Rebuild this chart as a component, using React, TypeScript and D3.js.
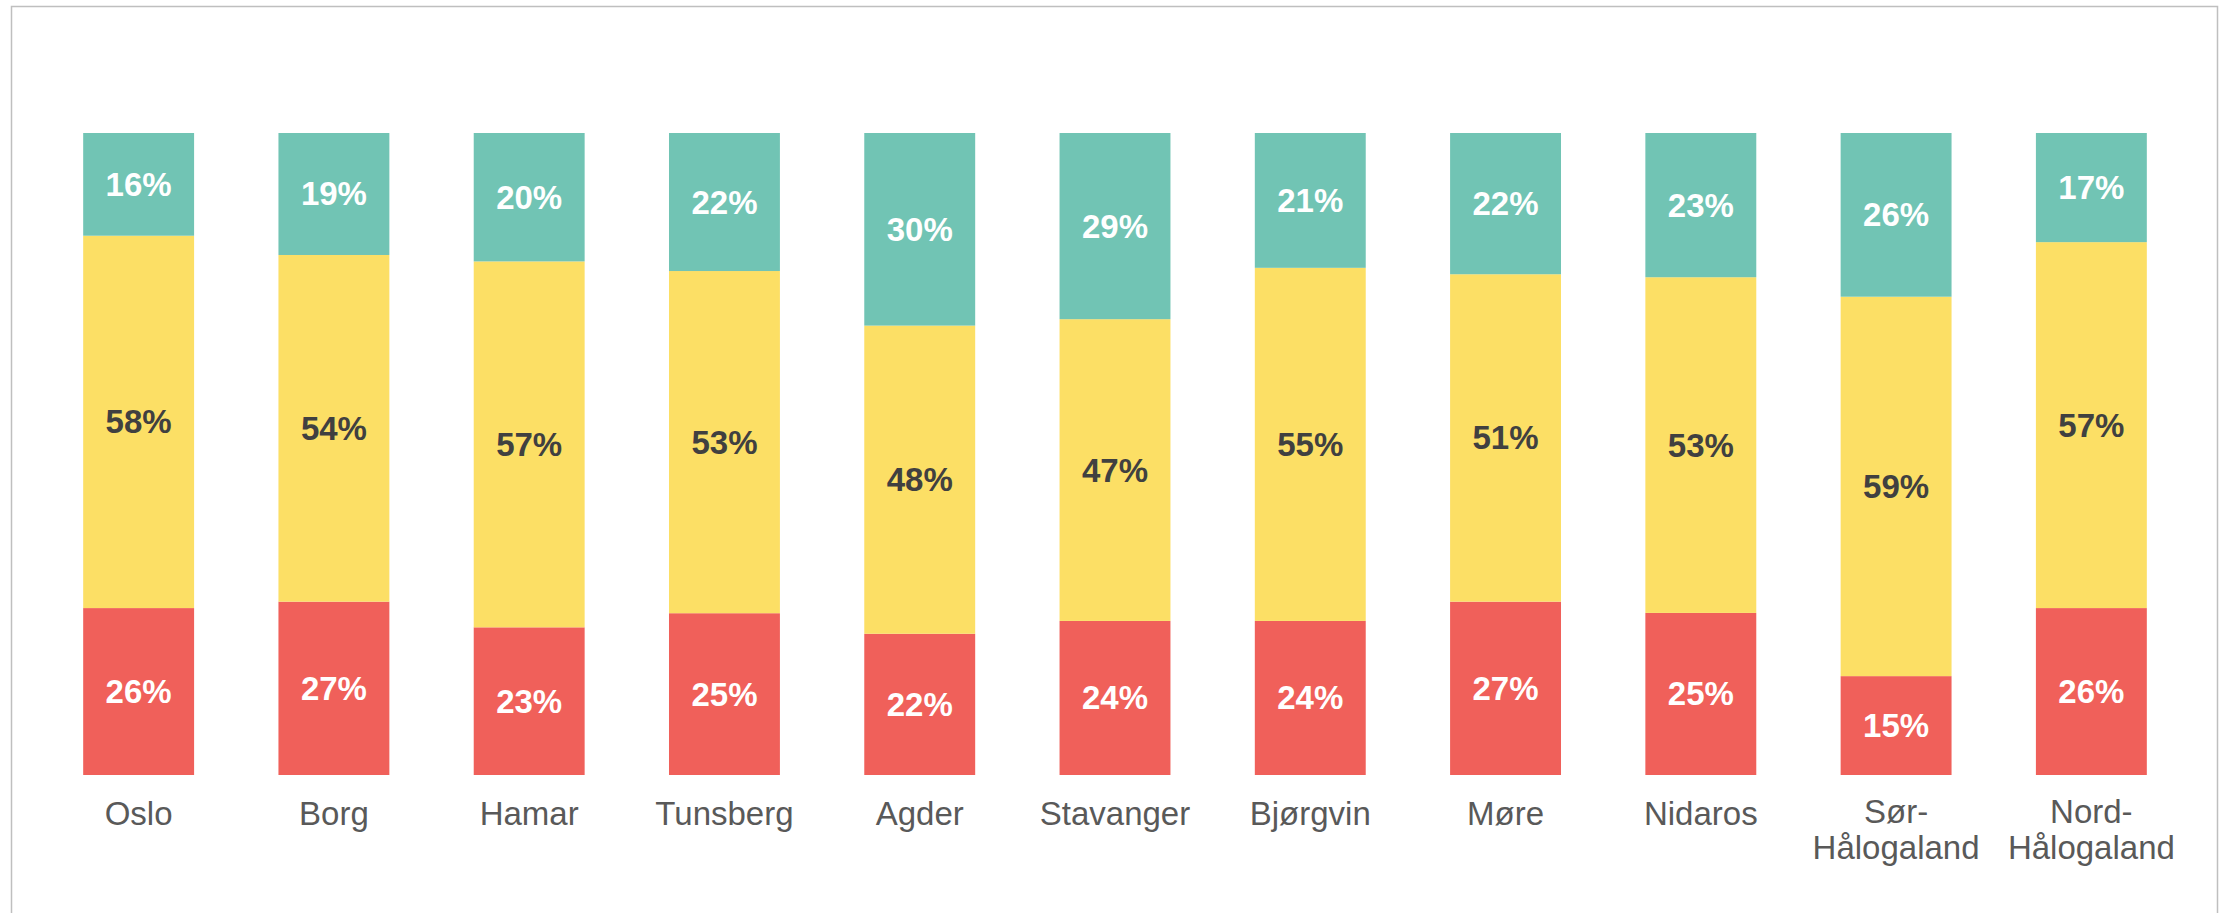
import React from "react";
import * as d3 from "d3";

const categories = [
  "Oslo",
  "Borg",
  "Hamar",
  "Tunsberg",
  "Agder",
  "Stavanger",
  "Bjørgvin",
  "Møre",
  "Nidaros",
  "Sør-Hålogaland",
  "Nord-Hålogaland",
];

// bottom (red), middle (yellow), top (teal) shares in percent
const lowValues = [26, 27, 23, 25.2, 22, 24, 24, 27, 25.4, 15.4, 26];
const midValues = [58, 54, 57, 53.3, 48, 47, 55, 51, 52.6, 59.1, 57];
const highValues = [16, 19, 20, 21.5, 30, 29, 21, 22, 22.6, 25.5, 17];

const seriesKeys = ["low", "mid", "high"];
const seriesColors = { low: "#F0605A", mid: "#FCDF65", high: "#71C4B4" };
const labelColors = { low: "#FFFFFF", mid: "#404040", high: "#FFFFFF" };

const W = 2224;
const H = 913;
const FONT = "'Liberation Sans', Arial, sans-serif";

export default function App() {
  const rows = categories.map((c, i) => ({
    name: c,
    low: lowValues[i],
    mid: midValues[i],
    high: highValues[i],
  }));

  const stack = d3
    .stack()
    .keys(seriesKeys)
    .offset(d3.stackOffsetExpand);
  const series = stack(rows as any);

  const x = d3
    .scaleBand()
    .domain(categories)
    .range([41, 2189])
    .paddingInner(0.432)
    .paddingOuter(0.216);

  const y = d3.scaleLinear().domain([0, 1]).range([775, 133]);

  return (
    <svg
      width={W}
      height={H}
      style={{ position: "absolute", left: 0, top: 0, background: "#fff" }}
    >
      {/* chart frame */}
      <rect
        x={11.5}
        y={6.5}
        width={2206}
        height={920}
        fill="#fff"
        stroke="#BFBFBF"
        strokeWidth={1.5}
      />

      {series.map((s) => (
        <g key={s.key}>
          {s.map((d, i) => {
            const x0 = x(categories[i])!;
            const y0 = y(d[1]);
            const y1 = y(d[0]);
            return (
              <g key={categories[i]}>
                <rect
                  x={x0}
                  y={y0}
                  width={x.bandwidth()}
                  height={y1 - y0}
                  fill={seriesColors[s.key]}
                />
                <text
                  x={x0 + x.bandwidth() / 2}
                  y={(y0 + y1) / 2}
                  textAnchor="middle"
                  dominantBaseline="central"
                  fontFamily={FONT}
                  fontWeight="bold"
                  fontSize={33}
                  fill={labelColors[s.key]}
                >
                  {Math.round((d.data as any)[s.key])}%
                </text>
              </g>
            );
          })}
        </g>
      ))}

      {categories.map((c) => {
        const parts = c.includes("-")
          ? [c.slice(0, c.indexOf("-") + 1), c.slice(c.indexOf("-") + 1)]
          : [c];
        return (
          <text
            key={c}
            x={x(c)! + x.bandwidth() / 2}
            y={parts.length > 1 ? 823 : 825}
            textAnchor="middle"
            fontFamily={FONT}
            fontSize={33}
            fill="#595959"
          >
            {parts.map((p, j) => (
              <tspan key={j} x={x(c)! + x.bandwidth() / 2} dy={j === 0 ? 0 : 36}>
                {p}
              </tspan>
            ))}
          </text>
        );
      })}
    </svg>
  );
}
